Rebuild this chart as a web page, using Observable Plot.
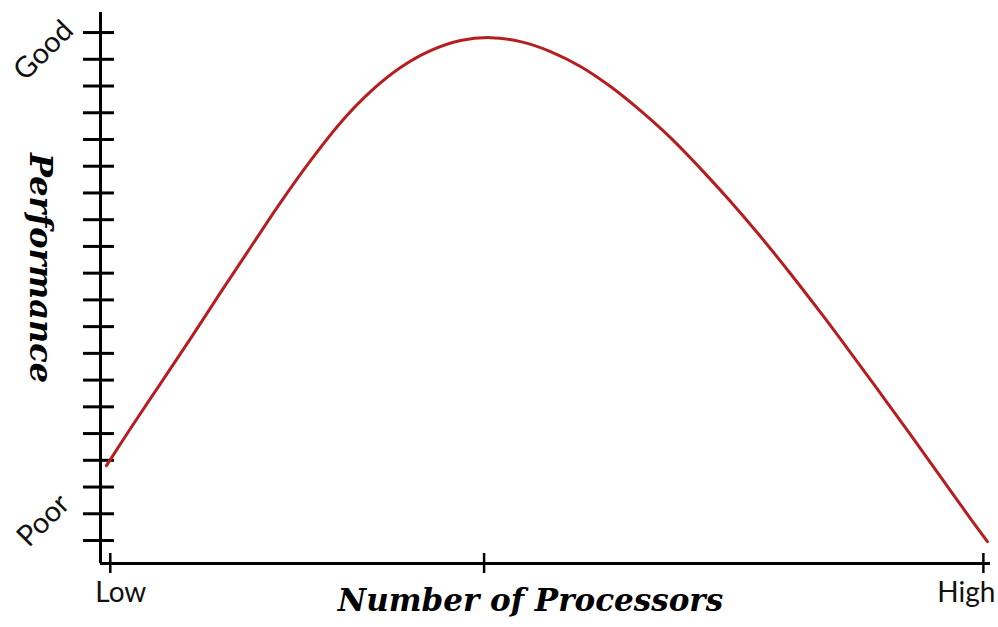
<!DOCTYPE html>
<html>
<head>
<meta charset="utf-8">
<script src="https://cdn.jsdelivr.net/npm/d3@7"></script>
<script src="https://cdn.jsdelivr.net/npm/@observablehq/plot@0.6"></script>
<style>
  html, body { margin: 0; padding: 0; background: #fff; }
  #chart svg { display: block; }
</style>
</head>
<body>
<div id="chart"></div>
<script>
// Processors (0 = low end of axis, 100 = high end)
const processors = [0.67, 3.37, 6.74, 10.11, 13.48, 16.85, 20.22, 23.60, 26.97, 30.34, 33.71, 37.08, 40.45, 43.82, 47.19, 50.56, 53.93, 57.30, 60.67, 64.04, 67.42, 70.79, 74.16, 77.53, 80.90, 84.27, 87.64, 91.01, 94.38, 97.75, 99.66];
// Performance in tick units (0 = Poor tick, 19 = Good tick)
const performance = [2.80, 4.19, 5.87, 7.55, 9.27, 10.96, 12.64, 14.21, 15.63, 16.79, 17.69, 18.32, 18.70, 18.81, 18.66, 18.29, 17.73, 16.98, 16.08, 15.07, 13.91, 12.68, 11.37, 9.98, 8.53, 7.03, 5.50, 3.96, 2.39, 0.82, -0.04];

const yTicks = d3.range(0, 20);
const xTicks = [1.1, 43.1, 99.2];
const xTickLabels = ["Low", "", "High"];
const yTickLabels = ["Poor", "Good"];
const xTitle = "Number of Processors";
const yTitle = "Performance";

const xDomain = [0, 100];
const yDomain = [-0.86, 19.75];

const curve = processors.map((p, i) => ({p, v: performance[i]}));

const sans = "Lato, 'Open Sans', sans-serif";
const serif = "'DejaVu Serif', serif";

const chart = Plot.plot({
  width: 998,
  height: 627,
  marginLeft: 100,
  marginRight: 8,
  marginTop: 12,
  marginBottom: 64,
  x: {domain: xDomain},
  y: {domain: yDomain},
  style: {background: "#fff", color: "#000"},
  marks: [
    // y-axis ticks crossing the axis line
    Plot.axisY({ticks: yTicks, tickSize: 31, dx: 14, strokeWidth: 3, tickFormat: () => "", label: null}),
    // x-axis ticks crossing the axis line
    Plot.axisX({ticks: xTicks, tickSize: 20, dy: -10, strokeWidth: 2.5, tickFormat: () => "", label: null}),
    Plot.ruleX([xDomain[0]], {stroke: "#000", strokeWidth: 3}),
    Plot.ruleY([yDomain[0]], {stroke: "#000", strokeWidth: 3}),
    Plot.line(curve, {x: "p", y: "v", stroke: "#b51d1f", strokeWidth: 3, curve: "catmull-rom"}),
    // x tick labels
    Plot.text([xTickLabels[0]], {x: xTicks[0], y: yDomain[0], text: d => d, dy: 30, dx: -15, textAnchor: "start", lineAnchor: "middle", fontFamily: sans, fontSize: 28, fill: "#111"}),
    Plot.text([xTickLabels[2]], {x: xTicks[2], y: yDomain[0], text: d => d, dy: 30, dx: 12, textAnchor: "end", lineAnchor: "middle", fontFamily: sans, fontSize: 28, fill: "#111"}),
    // y tick labels (rotated)
    Plot.text([yTickLabels[0]], {y: yTicks[0], frameAnchor: "left", text: d => d, dx: -57, dy: -20, rotate: -45, textAnchor: "middle", lineAnchor: "middle", fontFamily: sans, fontSize: 29, fill: "#111"}),
    Plot.text([yTickLabels[1]], {y: yTicks[19], frameAnchor: "left", text: d => d, dx: -57, dy: 18, rotate: -45, textAnchor: "middle", lineAnchor: "middle", fontFamily: sans, fontSize: 29, fill: "#111"}),
    // axis titles
    Plot.text([xTitle], {frameAnchor: "bottom", text: d => d, dx: -15, dy: 38, textAnchor: "middle", lineAnchor: "middle", fontFamily: serif, fontSize: 31, fontWeight: "bold", fontStyle: "italic", fill: "#000"}),
    Plot.text([yTitle], {frameAnchor: "left", text: d => d, dx: -60, dy: -20, rotate: 90, textAnchor: "middle", lineAnchor: "middle", fontFamily: serif, fontSize: 32, fontWeight: "bold", fontStyle: "italic", fill: "#000"})
  ]
});
document.getElementById("chart").appendChild(chart);
</script>
</body>
</html>
